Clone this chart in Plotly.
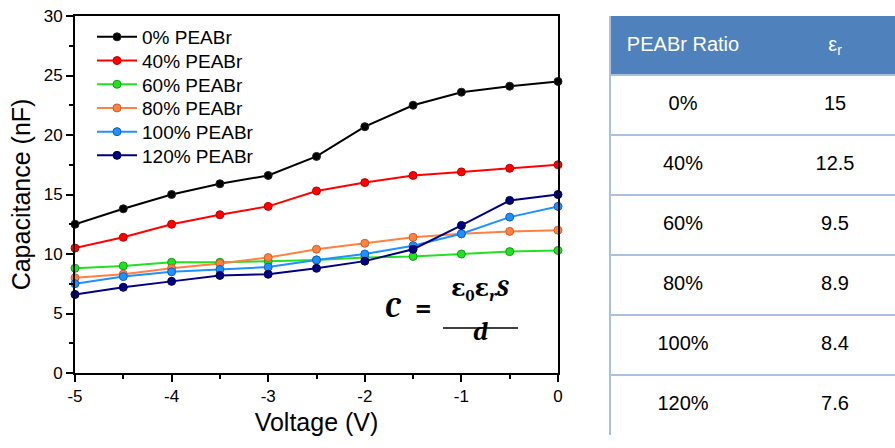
import plotly.graph_objects as go

voltage = [-5, -4.5, -4, -3.5, -3, -2.5, -2, -1.5, -1, -0.5, 0]
cap_0 = [12.5, 13.8, 15.0, 15.9, 16.6, 18.2, 20.7, 22.5, 23.6, 24.1, 24.5]
cap_40 = [10.5, 11.4, 12.5, 13.3, 14.0, 15.3, 16.0, 16.6, 16.9, 17.2, 17.5]
cap_60 = [8.8, 9.0, 9.3, 9.3, 9.4, 9.5, 9.7, 9.8, 10.0, 10.2, 10.3]
cap_80 = [8.0, 8.3, 8.8, 9.2, 9.7, 10.4, 10.9, 11.4, 11.7, 11.9, 12.0]
cap_100 = [7.5, 8.1, 8.5, 8.7, 8.9, 9.5, 10.0, 10.7, 11.7, 13.1, 14.0]
cap_120 = [6.6, 7.2, 7.7, 8.2, 8.3, 8.8, 9.4, 10.4, 12.4, 14.5, 15.0]

series_names = ["0% PEABr", "40% PEABr", "60% PEABr", "80% PEABr", "100% PEABr", "120% PEABr"]
series_values = [cap_0, cap_40, cap_60, cap_80, cap_100, cap_120]
series_colors = ["#000000", "#FF0000", "#22E022", "#FF8040", "#1E90FF", "#000080"]
marker_lines = ["#222222", "#C00000", "#10A010", "#D06020", "#1060C0", "#000050"]

x_tick_vals = [-5, -4, -3, -2, -1, 0]
x_tick_labels = ["-5", "-4", "-3", "-2", "-1", "0"]
y_tick_vals = [0, 5, 10, 15, 20, 25, 30]
y_tick_labels = ["0", "5", "10", "15", "20", "25", "30"]

table_header = ["PEABr Ratio", "ε<sub>r</sub>"]
table_ratio = ["0%", "40%", "60%", "80%", "100%", "120%"]
table_eps = ["15", "12.5", "9.5", "8.9", "8.4", "7.6"]

W, H = 895, 448
AF = "Arial, Liberation Sans, sans-serif"

fig = go.Figure()
legend_names = ["legend"] + ["legend%d" % (i + 2) for i in range(len(series_names) - 1)]
for name, vals, col, mline, lg in zip(series_names, series_values, series_colors, marker_lines, legend_names):
    fig.add_trace(go.Scatter(
        x=voltage, y=vals, mode="lines+markers", name=name,
        line=dict(color=col, width=2),
        marker=dict(color=col, size=8, line=dict(color=mline, width=1)),
        cliponaxis=False, legend=lg,
    ))

# ---- table drawn on its own axes ----
n_rows = len(table_ratio)
header_h = 59 / 60.0
row_y = [n_rows - i - 0.5 for i in range(n_rows)]
col_x = [0.5, 1.5]
fig.add_trace(go.Scatter(
    x=[col_x[0]] * n_rows, y=row_y, text=table_ratio, mode="text",
    textfont=dict(family=AF, size=20, color="black"),
    xaxis="x2", yaxis="y2", showlegend=False, hoverinfo="skip"))
fig.add_trace(go.Scatter(
    x=[col_x[1]] * n_rows, y=row_y, text=table_eps, mode="text",
    textfont=dict(family=AF, size=20, color="black"),
    xaxis="x2", yaxis="y2", showlegend=False, hoverinfo="skip"))
fig.add_trace(go.Scatter(
    x=col_x, y=[n_rows + header_h / 2] * 2, text=table_header, mode="text",
    textfont=dict(family=AF, size=20, color="white"),
    xaxis="x2", yaxis="y2", showlegend=False, hoverinfo="skip"))
fig.add_shape(type="rect", xref="x2", yref="y2", x0=-1, x1=3,
              y0=n_rows, y1=n_rows + header_h, fillcolor="#4F81BD",
              line=dict(width=0), layer="below")

axis_common = dict(
    showline=True, linecolor="black", linewidth=2, mirror=True,
    ticks="outside", ticklen=7, tickwidth=2, tickcolor="black",
    showgrid=False, zeroline=False,
    tickfont=dict(family=AF, size=17, color="black"),
)

legend_layout = {}
for i, lg in enumerate(legend_names):
    yc = 37 + 23.7 * i
    legend_layout[lg] = dict(
        x=92 / W, y=1 - yc / H, xanchor="left", yanchor="middle",
        bgcolor="rgba(0,0,0,0)", font=dict(family=AF, size=19, color="black"),
        itemwidth=40)

fig.update_layout(
    width=W, height=H,
    margin=dict(l=0, r=0, t=0, b=0),
    paper_bgcolor="white", plot_bgcolor="white",
    xaxis=dict(domain=[75 / W, 558 / W], range=[-5, 0],
               tickvals=x_tick_vals, ticktext=x_tick_labels,
               minor=dict(dtick=0.5, ticks="outside", ticklen=4, tickwidth=2, tickcolor="black"),
               title=dict(text="Voltage (V)", font=dict(family=AF, size=25, color="black"), standoff=8),
               automargin=False, **axis_common),
    yaxis=dict(domain=[1 - 373 / H, 1 - 16 / H], range=[0, 30],
               tickvals=y_tick_vals, ticktext=y_tick_labels,
               minor=dict(dtick=2.5, ticks="outside", ticklen=4, tickwidth=2, tickcolor="black"),
               title=dict(text="Capacitance (nF)", font=dict(family=AF, size=25, color="black"), standoff=6),
               automargin=False, **axis_common),
    xaxis2=dict(domain=[611 / W, 1.0], range=[0.5 - 72 / 152, 1.5 + 60 / 152],
                showgrid=False, zeroline=False, showticklabels=False, ticks="",
                showline=False, anchor="y2", fixedrange=True),
    yaxis2=dict(domain=[1 - 435 / H, 1 - 16 / H], range=[0, n_rows + header_h],
                tickvals=list(range(n_rows + 1)), showgrid=True,
                gridcolor="#A9C0DF", gridwidth=1.5,
                zeroline=False, showticklabels=False, ticks="",
                showline=True, linecolor="#A9C0DF", linewidth=1.5,
                anchor="x2", fixedrange=True),
    showlegend=True,
    **legend_layout,
)

serif = "Cambria, DejaVu Serif, Liberation Serif"
fig.add_annotation(xref="paper", yref="paper", x=393 / W, y=1 - 326 / H,
                   text="<b><i>C</i></b>", showarrow=False,
                   font=dict(family=serif, size=28, color="black"))
fig.add_annotation(xref="paper", yref="paper", x=423 / W, y=1 - 326 / H,
                   text="<b>=</b>", showarrow=False,
                   font=dict(family=serif, size=28, color="black"))
fig.add_annotation(xref="paper", yref="paper", x=480 / W, y=1 - 307 / H,
                   text="<b>ε<sub>0</sub>ε<sub><i>r</i></sub><i>S</i></b>", showarrow=False,
                   font=dict(family=serif, size=24, color="black"))
fig.add_annotation(xref="paper", yref="paper", x=480 / W, y=1 - 349 / H,
                   text="<b><i>d</i></b>", showarrow=False,
                   font=dict(family=serif, size=26, color="black"))
fig.add_shape(type="line", xref="paper", yref="paper",
              x0=443 / W, x1=518 / W, y0=1 - 328 / H, y1=1 - 328 / H,
              line=dict(color="black", width=1.5))

fig.write_html("out.html", config={"displayModeBar": False},
               post_script="document.body.style.margin='0';document.body.style.overflow='hidden';")
